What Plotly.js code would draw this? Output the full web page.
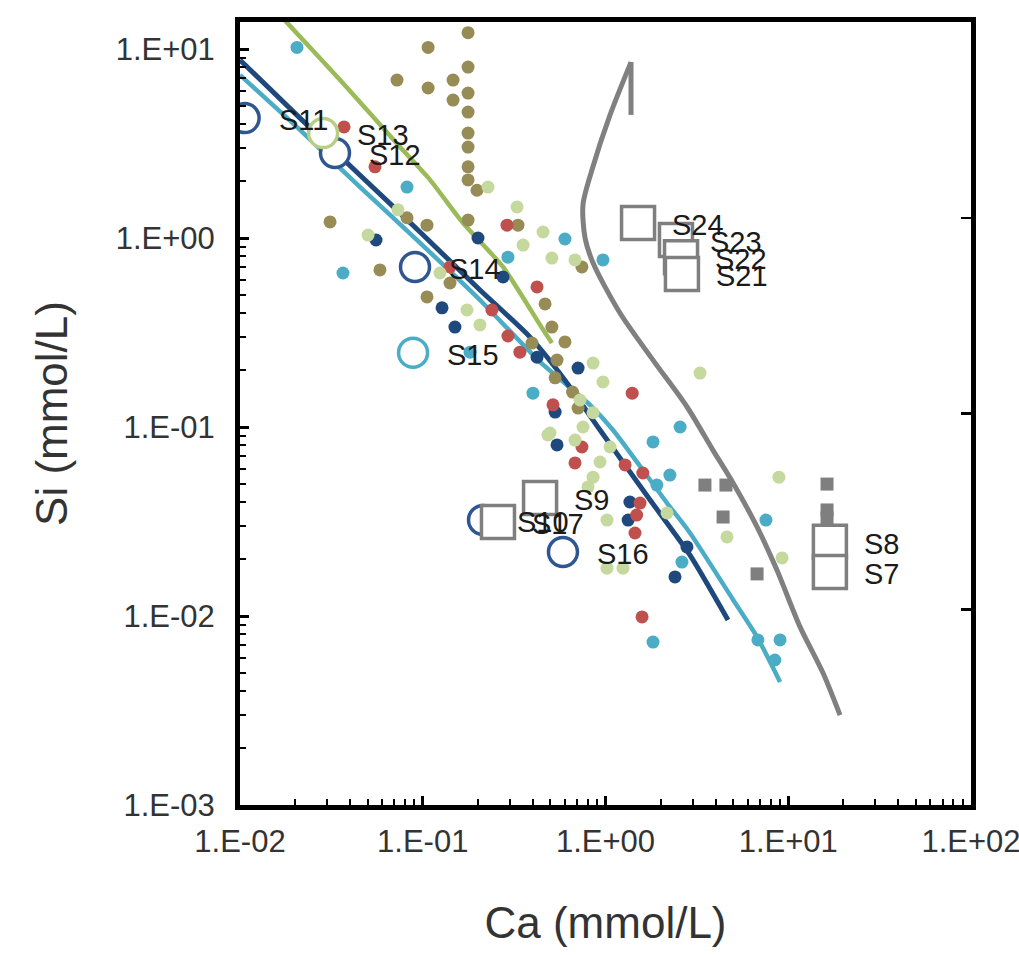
<!DOCTYPE html>
<html>
<head>
<meta charset="utf-8">
<script src="https://cdn.plot.ly/plotly-3.0.1.min.js"></script>
<style>
  html, body { margin: 0; padding: 0; background: #fff; }
  #chart { width: 1019px; height: 955px; }
</style>
</head>
<body>
<div id="chart"></div>
<script>
// sample dots (Ca, Si in mmol/L)
const oliveCa = [0.177, 0.107, 0.0723, 0.1465, 0.177, 0.107, 0.1465, 0.177, 0.177, 0.177, 0.177, 0.177, 0.177, 0.198, 0.177, 0.0311, 0.0583, 0.082, 0.1055, 0.141, 0.1055, 0.332, 0.467, 0.509, 0.60, 0.396, 0.543, 0.530, 0.743, 0.66, 0.708];
const oliveSi = [12.2, 10.2, 6.85, 6.85, 8.03, 6.22, 5.37, 5.85, 4.64, 3.59, 3.03, 2.38, 2.03, 1.79, 1.245, 1.216, 0.678, 1.28, 1.17, 0.578, 0.488, 1.17, 0.448, 0.338, 0.282, 0.278, 0.226, 0.182, 0.703, 0.153, 0.126];

const lgreenCa = [0.2275, 0.328, 0.354, 0.0502, 0.0732, 0.1746, 0.2056, 0.1243, 0.455, 0.509, 0.681, 0.855, 0.968, 3.29, 0.855, 0.753, 0.484, 0.681, 1.059, 0.933, 0.497, 0.855, 0.802, 1.019, 1.019, 1.247, 2.17, 8.89, 4.62, 9.25, 0.725];
const lgreenSi = [1.86, 1.46, 0.918, 1.037, 1.41, 0.416, 0.347, 0.653, 1.076, 0.783, 0.766, 0.218, 0.173, 0.193, 0.119, 0.100, 0.0908, 0.0853, 0.0784, 0.0653, 0.0929, 0.0543, 0.0482, 0.0322, 0.0179, 0.0179, 0.0351, 0.0543, 0.0262, 0.0203, 0.139];

const cyanCa = [0.0205, 0.082, 0.0366, 0.2925, 0.60, 0.968, 0.401, 1.82, 2.56, 2.25, 1.91, 2.62, 1.82, 7.55, 9.02, 6.82, 8.45, 0.1815];
const cyanSi = [10.2, 1.86, 0.653, 0.792, 0.988, 0.766, 0.151, 0.0834, 0.100, 0.0557, 0.0493, 0.0193, 0.00728, 0.0322, 0.00747, 0.00747, 0.00585, 0.249];

const redCa = [0.0371, 0.0548, 0.289, 0.141, 0.239, 0.422, 0.2925, 0.340, 0.516, 0.743, 0.681, 1.28, 1.60, 1.40, 1.545, 1.48, 1.45, 1.585];
const redSi = [3.87, 2.38, 1.17, 0.703, 0.416, 0.551, 0.303, 0.249, 0.131, 0.0784, 0.0646, 0.0630, 0.0571, 0.151, 0.0396, 0.0342, 0.0275, 0.00989];

const navyCa = [0.0555, 0.2006, 0.1275, 0.150, 0.275, 0.422, 0.708, 0.530, 0.543, 1.36, 1.33, 2.79, 2.40];
const navySi = [0.976, 1.000, 0.427, 0.338, 0.622, 0.234, 0.205, 0.120, 0.0804, 0.0401, 0.0322, 0.0232, 0.0161];

// labelled samples
const navyOpenNames = ['S11', 'S12', 'S14', 'S16', 'S10'];
const navyOpenCa = [0.0106, 0.0331, 0.0907, 0.585, 0.2137];
const navyOpenSi = [4.31, 2.82, 0.703, 0.0218, 0.0322];

const cyanOpenNames = ['S15'];
const cyanOpenCa = [0.0885];
const cyanOpenSi = [0.247];

const greenOpenNames = ['S13'];
const greenOpenCa = [0.0285];
const greenOpenSi = [3.59];

const squareNames = ['S24', 'S23', 'S22', 'S21', 'S9', 'S17', 'S8', 'S7'];
const squareCa = [1.507, 2.43, 2.59, 2.62, 0.4385, 0.258, 16.9, 16.9];
const squareSi = [1.20, 0.976, 0.792, 0.646, 0.0421, 0.0314, 0.0247, 0.0171];

const grayFillCa = [3.50, 4.56, 4.40, 6.75, 16.3, 16.3, 16.3];
const grayFillSi = [0.0493, 0.0493, 0.0334, 0.0167, 0.0499, 0.0364, 0.0330];

// model lines
const navyLineCa = [0.0100, 0.0213, 0.0454, 0.0966, 0.2056, 0.3866, 0.600, 0.933, 1.754, 2.90, 4.68];
const navyLineSi = [8.75, 4.31, 2.15, 1.076, 0.531, 0.299, 0.177, 0.0964, 0.0411, 0.0210, 0.00953];

const cyanLineCa = [0.0100, 0.0213, 0.0454, 0.0966, 0.2056, 0.4385, 0.822, 1.099, 2.171, 2.90, 4.99, 6.75, 9.02];
const cyanLineSi = [7.28, 3.73, 1.86, 0.943, 0.470, 0.221, 0.131, 0.0964, 0.0396, 0.0275, 0.0122, 0.00775, 0.00448];

const greenLineCa = [0.01656, 0.0353, 0.0751, 0.1096, 0.1661, 0.2749, 0.4494, 0.5093];
const greenLineSi = [15.1, 6.85, 3.03, 2.03, 1.20, 0.703, 0.334, 0.278];

const grayStubCa = [1.379, 1.379];
const grayStubSi = [4.48, 8.53];
const grayCurveCa = [1.379, 1.059, 0.843, 0.753, 0.773, 0.855, 1.200, 1.82, 2.79, 3.87, 4.99, 6.75, 8.67, 11.6, 15.5, 19.2];
const grayCurveSi = [8.53, 4.48, 2.29, 1.50, 1.00, 0.738, 0.401, 0.226, 0.128, 0.0755, 0.0506, 0.0296, 0.0175, 0.00876, 0.00499, 0.00299];

// axes
const xTickVals = [0.01, 0.1, 1, 10, 100];
const xTickText = ['1.E-02', '1.E-01', '1.E+00', '1.E+01', '1.E+02'];
const yTickVals = [0.001, 0.01, 0.1, 1, 10];
const yTickText = ['1.E-03', '1.E-02', '1.E-01', '1.E+00', '1.E+01'];

const C = {
  olive: '#978C55', lgreen: '#C5D89D', cyan: '#4BACC6', red: '#C0504D', navy: '#1F497D',
  green: '#9BBB59', greenOpen: '#B7CE84', gray: '#808080', text: '#2b2b2b'
};
const FONT = 'Liberation Sans, Arial, sans-serif';

const minorVals = lo => {
  const out = [];
  for (let d = lo; d < 100; d *= 10) for (let k = 2; k <= 9; k++) out.push(d * k);
  return out;
};

const line = (x, y, color, width, extra) => ({
  type: 'scatter', mode: 'lines', x, y, hoverinfo: 'skip',
  line: {color, width, ...(extra || {})}
});
const dots = (x, y, color) => ({
  type: 'scatter', mode: 'markers', x, y,
  marker: {color, size: 13, line: {width: 0}}
});
const open = (x, y, names, symbol, color, size) => ({
  type: 'scatter', mode: 'markers', x, y, text: names,
  marker: {symbol, size, color: '#fff', line: {color, width: 3.5}}
});

const traces = [
  line(cyanLineCa, cyanLineSi, C.cyan, 4.5, {shape: 'spline', smoothing: 0.6}),
  line(navyLineCa, navyLineSi, C.navy, 5, {shape: 'spline', smoothing: 0.6}),
  line(greenLineCa, greenLineSi, C.green, 4.5, {shape: 'spline', smoothing: 0.6}),
  dots(oliveCa, oliveSi, C.olive),
  dots(navyCa, navySi, C.navy),
  dots(redCa, redSi, C.red),
  dots(cyanCa, cyanSi, C.cyan),
  dots(lgreenCa, lgreenSi, C.lgreen),
  line(grayStubCa, grayStubSi, C.gray, 5),
  line(grayCurveCa, grayCurveSi, C.gray, 5, {shape: 'spline', smoothing: 0.8}),
  open(navyOpenCa, navyOpenSi, navyOpenNames, 'circle', '#2F5690', 29),
  open(cyanOpenCa, cyanOpenSi, cyanOpenNames, 'circle', '#4BACC6', 29),
  open(greenOpenCa, greenOpenSi, greenOpenNames, 'circle', C.greenOpen, 29),
  open(squareCa, squareSi, squareNames, 'square', '#7F7F7F', 33),
  {type: 'scatter', mode: 'markers', x: grayFillCa, y: grayFillSi,
   marker: {symbol: 'square', size: 13, color: '#7F7F7F'}},
  {type: 'scatter', x: [], y: [], yaxis: 'y2', showlegend: false}
];

const labelled = [
  [navyOpenCa, navyOpenSi, navyOpenNames],
  [cyanOpenCa, cyanOpenSi, cyanOpenNames],
  [greenOpenCa, greenOpenSi, greenOpenNames],
  [squareCa, squareSi, squareNames]
];
const annotations = [];
labelled.forEach(([xs, ys, names]) => names.forEach((n, i) => annotations.push({
  x: Math.log10(xs[i]), y: Math.log10(ys[i]), text: n, showarrow: false,
  xanchor: 'left', yanchor: 'middle', xshift: 32, yshift: -2,
  font: {family: FONT, size: 29, color: '#1a1a1a'}
})));

const axisCommon = {
  type: 'log', showgrid: false, zeroline: false,
  showline: true, linecolor: '#000', linewidth: 5, mirror: true,
  ticks: 'inside', ticklen: 9, tickwidth: 3, tickcolor: '#000',
  tickmode: 'array', ticklabeloverflow: 'allow',
  tickfont: {family: FONT, size: 31, color: '#333'}
};

const layout = {
  width: 1019, height: 955,
  margin: {l: 240, r: 48, t: 22, b: 150},
  paper_bgcolor: '#fff', plot_bgcolor: '#fff',
  showlegend: false, hovermode: 'closest',
  xaxis: {...axisCommon, range: [-2, 2], tickvals: xTickVals, ticktext: xTickText,
    ticklabelstandoff: 5,
    minor: {tickmode: 'array', tickvals: minorVals(0.01), ticks: 'inside', ticklen: 6, tickwidth: 2, tickcolor: '#000'},
    title: {text: 'Ca (mmol/L)', standoff: 50, font: {family: FONT, size: 44, color: '#333'}}},
  yaxis: {...axisCommon, range: [-3, 1.143], tickvals: yTickVals, ticktext: yTickText,
    ticklabelstandoff: 14,
    minor: {tickmode: 'array', tickvals: minorVals(0.001), ticks: 'inside', ticklen: 6, tickwidth: 2, tickcolor: '#000'},
    title: {text: 'Si (mmol/L)', standoff: 36, font: {family: FONT, size: 44, color: '#333'}}},
  yaxis2: {type: 'log', overlaying: 'y', side: 'right', range: [-3, 1], showgrid: false, zeroline: false,
    showline: false, ticks: 'inside', ticklen: 10, tickwidth: 2.5, tickcolor: '#000',
    tickmode: 'array', tickvals: [0.01, 0.1, 1], showticklabels: false},
  annotations
};

Plotly.newPlot('chart', traces, layout, {displayModeBar: false, staticPlot: true});
</script>
</body>
</html>
